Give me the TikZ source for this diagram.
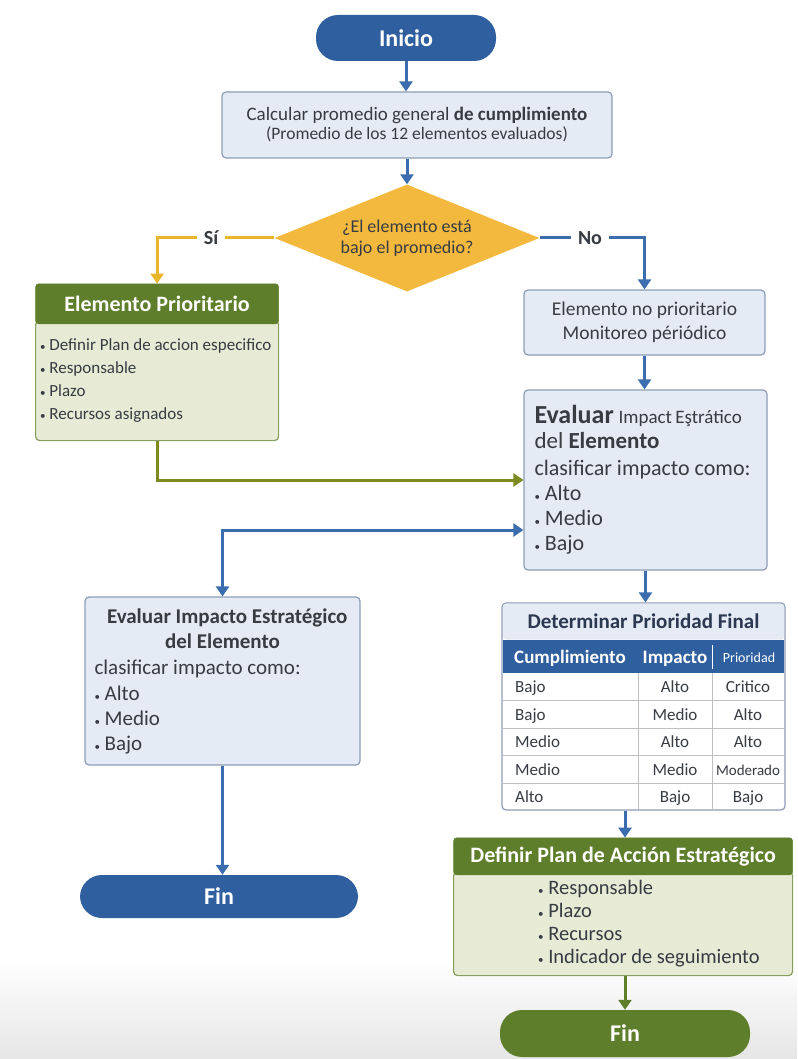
\documentclass[tikz,border=0pt]{standalone}
\usepackage{fontspec}
\setmainfont{Carlito}
\usetikzlibrary{arrows.meta,positioning,shapes.geometric}
\definecolor{inkblue}{HTML}{2F5F9E}
\definecolor{lineblue}{HTML}{3B6DAE}
\definecolor{paleblue}{HTML}{E5EBF5}
\definecolor{rimblue}{HTML}{8C9CB6}
\definecolor{navy}{HTML}{2B3850}
\definecolor{amber}{HTML}{F3B93F}
\definecolor{amberline}{HTML}{E9B52B}
\definecolor{leaf}{HTML}{5E7E2B}
\definecolor{paleleaf}{HTML}{E7EBD6}
\definecolor{oliveline}{HTML}{7C8A1F}
\definecolor{ink}{HTML}{373B42}
\newcommand\itemdot{{\fontsize{11}{11}\selectfont\textbullet}\ }
\newcommand\fs[2]{\fontsize{#1}{#2}\selectfont}
\begin{document}
\begin{tikzpicture}[x=1pt, y=-1pt,
  every node/.style={text=ink, inner sep=0pt, align=center},
  terminal/.style={rectangle, rounded corners=22pt, text=white, font=\fs{24}{28}\bfseries},
  bluebox/.style={rectangle, rounded corners=4pt, draw=rimblue, line width=1.2pt, fill=paleblue},
  greenhead/.style={rectangle, rounded corners=3pt, draw=leaf, fill=leaf, text=white, font=\fs{22}{25}\bfseries},
  greenbody/.style={rectangle, rounded corners=4pt, draw=leaf!75, line width=1.2pt, fill=paleleaf},
  flow/.style={draw=lineblue, line width=3pt, -{Triangle[length=10pt,width=13pt]}},
  answer/.style={fill=white, inner xsep=7pt, inner ysep=2pt, font=\fs{20}{23}\bfseries},
  cell/.style={font=\fs{17}{20}, anchor=base}]
\useasboundingbox (0,0) rectangle (797,1059);
\shade[top color=white, bottom color=black!10] (0,960) rectangle (797,1059);

% top of the flow
\node[terminal, fill=inkblue, minimum width=180, minimum height=46] (inicio) at (406,38) {Inicio};
\node[bluebox, minimum width=390, minimum height=66] (calc) at (417,125)
  {{\fs{19}{23}Calcular promedio general \textbf{de cumplimiento}}\\[2pt]
   {\fs{17.5}{20}(Promedio de los 12 elementos evaluados)}};
\node[diamond, fill=amber, aspect=2.5, minimum width=265, minimum height=107, font=\fs{18}{21}] (check) at (407,238)
  {¿El elemento está\\bajo el promedio?};

% left branch
\node[greenbody, anchor=north west, minimum width=243, minimum height=120, text width=234, align=flush left, font=\fs{17}{23}] (prio) at (35,320)
  {\itemdot Definir Plan de accion especifico\\ \itemdot Responsable\\ \itemdot Plazo\\ \itemdot Recursos asignados};
\node[greenhead, minimum width=243, minimum height=40, anchor=south, yshift=-4pt] (priohead) at (prio.north) {Elemento Prioritario};

% right branch
\node[bluebox, minimum width=241, minimum height=65, font=\fs{19.5}{24}] (noprio) at (644.5,322.5)
  {Elemento no prioritario\\Monitoreo périódico};
\node[bluebox, minimum width=243, minimum height=180, text width=222, align=flush left, font=\fs{22}{25}] (evalr) at (645.5,480)
  {{\fs{26}{25}\bfseries Evaluar} {\fs{19}{25}Impact\,Eştrático}\\
   {\fs{23}{25}del \textbf{Elemento}}\\[2pt]
   clasificar impacto como:\\
   \itemdot Alto\\ \itemdot Medio\\ \itemdot Bajo};
\node[bluebox, minimum width=275, minimum height=168, text width=256, align=flush left, font=\fs{21}{25}] (evall) at (222.5,681)
  {\makebox[256pt]{\bfseries\fs{21}{25}\ \ Evaluar Impacto Estratégico}\\
   \makebox[256pt]{\bfseries\fs{21}{25}del Elemento}\\[1pt]
   clasificar impacto como:\\[1pt]
   \itemdot Alto\\ \itemdot Medio\\ \itemdot Bajo};

% priority table
\node[draw=rimblue, line width=1.2pt, rounded corners=4pt, fill=white, minimum width=283, minimum height=207] (prior) at (643.5,706.5) {};
\node[fill=paleblue, rounded corners=3pt, minimum width=281, minimum height=36, anchor=north, yshift=-1pt, text=navy, font=\fs{21}{24}\bfseries] (priortitle) at (prior.north) {Determinar Prioridad Final};
\fill[inkblue] (503,640) rectangle (784,673);
\node[anchor=base, text=white, font=\fs{19}{22}\bfseries] (hcump) at (570,663) {Cumplimiento};
\node[anchor=base, text=white, font=\fs{19}{22}\bfseries] (himp) at (675,663) {Impacto};
\node[anchor=base, text=white, font=\fs{14}{16}] (hprio) at (749,662) {Prioridad};
\draw[white, line width=1pt] (712,645) -- (712,669);
\foreach \y in {700,728,755,783}
  \draw[black!25, line width=1pt] (503,\y) -- (784,\y);
\draw[black!25, line width=1pt] (638,673) -- (638,809) (712,673) -- (712,809);
\foreach \a/\b/\c [count=\i] in {Bajo/Alto/Critico, Bajo/Medio/Alto, Medio/Alto/Alto, Medio/Medio/{\fs{15}{18}Moderado}, Alto/Bajo/Bajo} {
  \node[cell, anchor=base west] (cum\i) at (515,665.5+27.4*\i) {\a};
  \node[cell] (imp\i) at (675,665.5+27.4*\i) {\b};
  \node[cell] (pri\i) at (748,665.5+27.4*\i) {\c};
}

% action plan
\node[greenbody, anchor=north west, minimum width=339, minimum height=104] (plan) at (453,871) {};
\node[greenhead, minimum width=339, minimum height=37, anchor=south, yshift=-4pt] (planhead) at (plan.north) {Definir Plan de Acción Estratégico};
\node[anchor=west, align=flush left, font=\fs{20.5}{23}] (planlist) at (538,924)
  {\itemdot Responsable\\ \itemdot Plazo\\ \itemdot Recursos\\ \itemdot Indicador de seguimiento};

% ends
\node[terminal, fill=inkblue, minimum width=278, minimum height=43] (finA) at (219,896.5) {Fin};
\node[terminal, fill=leaf, minimum width=250, minimum height=47] (finB) at (625,1033.5) {Fin};

% connectors
\draw[flow] (inicio.south) -- (inicio.south |- calc.north);
\draw[flow] (check.north |- calc.south) -- (check.north);
\draw[flow, draw=amberline] (check.west) -| node[answer, pos=0.27] {Sí} (priohead.north);
\draw[flow] (check.east) -| node[answer, pos=0.24] {No} (noprio.north);
\draw[flow] (noprio.south) -- (noprio.south |- evalr.north);
\draw[flow, draw=oliveline] (prio.south) |- (evalr.west);
\draw[flow, {Triangle[length=10pt,width=13pt]}-{Triangle[length=10pt,width=13pt]}] (evall.north) |- ([yshift=-50pt]evalr.west);
\draw[flow] (evalr.south) -- (evalr.south |- prior.north);
\draw[flow] (evall.south) -- (evall.south |- finA.north);
\draw[flow] (prior.south -| finB.north) -- (planhead.north -| finB.north);
\draw[flow, draw=leaf] (plan.south -| finB.north) -- (finB.north);
\end{tikzpicture}
\end{document}
